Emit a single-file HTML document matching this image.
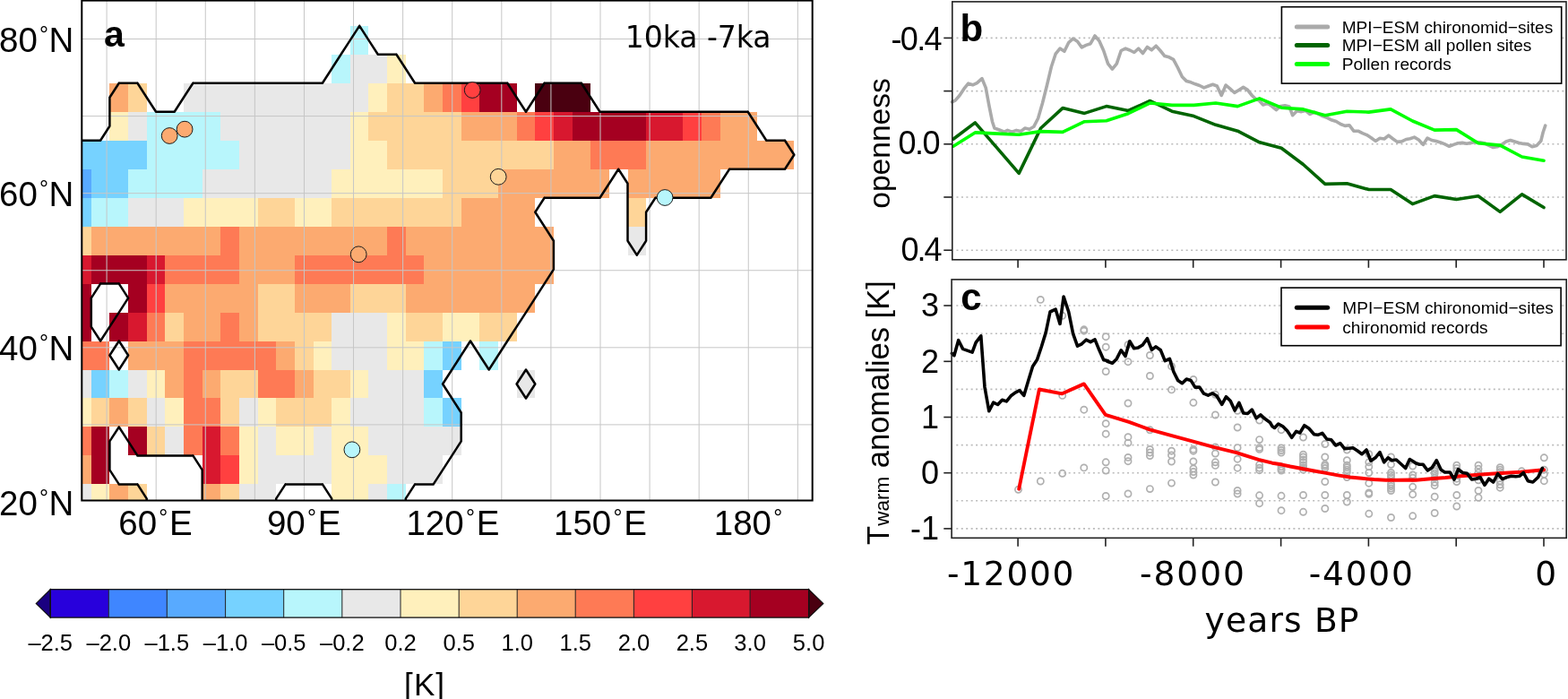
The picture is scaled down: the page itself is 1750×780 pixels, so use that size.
<!DOCTYPE html><html><head><meta charset="utf-8"><style>html,body{margin:0;padding:0;background:#fff;}svg{display:block}</style></head><body>
<svg width="1750" height="780" viewBox="0 0 1750 780">
<defs><clipPath id="mc"><rect x="91.3" y="0.6" width="815.4" height="557.9"/></clipPath></defs>
<rect width="1750" height="780" fill="#fff"/>
<g clip-path="url(#mc)" shape-rendering="crispEdges">
<rect x="390.83" y="28.88" width="20.65" height="31.97" fill="#b8f6fc"/>
<rect x="370.19" y="60.85" width="20.64" height="31.97" fill="#b8f6fc"/>
<rect x="390.83" y="60.85" width="41.29" height="31.97" fill="#e8e8e8"/>
<rect x="432.12" y="60.85" width="20.64" height="31.97" fill="#fff0bc"/>
<rect x="122.44" y="92.82" width="20.65" height="31.97" fill="#fcaa70"/>
<rect x="143.09" y="92.82" width="20.65" height="31.97" fill="#fed598"/>
<rect x="205.02" y="92.82" width="206.45" height="31.97" fill="#e8e8e8"/>
<rect x="411.48" y="92.82" width="20.64" height="31.97" fill="#fff0bc"/>
<rect x="432.12" y="92.82" width="41.29" height="31.97" fill="#fed598"/>
<rect x="473.41" y="92.82" width="20.64" height="31.97" fill="#fcaa70"/>
<rect x="494.06" y="92.82" width="20.64" height="31.97" fill="#fe7a55"/>
<rect x="514.70" y="92.82" width="20.65" height="31.97" fill="#ff4040"/>
<rect x="535.35" y="92.82" width="41.29" height="31.97" fill="#a50021"/>
<rect x="597.28" y="92.82" width="61.93" height="31.97" fill="#4a0010"/>
<rect x="122.44" y="124.79" width="20.65" height="31.97" fill="#fff0bc"/>
<rect x="143.09" y="124.79" width="20.65" height="31.97" fill="#e8e8e8"/>
<rect x="163.74" y="124.79" width="82.58" height="31.97" fill="#b8f6fc"/>
<rect x="246.31" y="124.79" width="144.51" height="31.97" fill="#e8e8e8"/>
<rect x="390.83" y="124.79" width="20.65" height="31.97" fill="#fff0bc"/>
<rect x="411.48" y="124.79" width="103.22" height="31.97" fill="#fed598"/>
<rect x="514.70" y="124.79" width="61.94" height="31.97" fill="#fcaa70"/>
<rect x="576.63" y="124.79" width="20.64" height="31.97" fill="#fe7a55"/>
<rect x="597.28" y="124.79" width="20.64" height="31.97" fill="#ff4040"/>
<rect x="617.92" y="124.79" width="20.64" height="31.97" fill="#d8182f"/>
<rect x="638.57" y="124.79" width="82.58" height="31.97" fill="#a50021"/>
<rect x="721.15" y="124.79" width="41.29" height="31.97" fill="#d8182f"/>
<rect x="762.44" y="124.79" width="20.64" height="31.97" fill="#ff4040"/>
<rect x="783.08" y="124.79" width="20.64" height="31.97" fill="#fe7a55"/>
<rect x="803.73" y="124.79" width="41.29" height="31.97" fill="#fcaa70"/>
<rect x="81.16" y="156.76" width="82.58" height="31.97" fill="#76d2ff"/>
<rect x="163.74" y="156.76" width="103.22" height="31.97" fill="#b8f6fc"/>
<rect x="266.96" y="156.76" width="123.87" height="31.97" fill="#e8e8e8"/>
<rect x="390.83" y="156.76" width="41.29" height="31.97" fill="#fff0bc"/>
<rect x="432.12" y="156.76" width="185.80" height="31.97" fill="#fed598"/>
<rect x="617.92" y="156.76" width="41.29" height="31.97" fill="#fcaa70"/>
<rect x="659.21" y="156.76" width="61.94" height="31.97" fill="#fe7a55"/>
<rect x="721.15" y="156.76" width="165.16" height="31.97" fill="#fcaa70"/>
<rect x="81.16" y="188.73" width="20.64" height="31.97" fill="#58aaff"/>
<rect x="101.80" y="188.73" width="41.29" height="31.97" fill="#76d2ff"/>
<rect x="143.09" y="188.73" width="82.58" height="31.97" fill="#b8f6fc"/>
<rect x="225.67" y="188.73" width="144.51" height="31.97" fill="#e8e8e8"/>
<rect x="370.19" y="188.73" width="123.87" height="31.97" fill="#fff0bc"/>
<rect x="494.06" y="188.73" width="61.94" height="31.97" fill="#fed598"/>
<rect x="555.99" y="188.73" width="123.87" height="31.97" fill="#fcaa70"/>
<rect x="700.50" y="188.73" width="103.22" height="31.97" fill="#fcaa70"/>
<rect x="81.16" y="220.70" width="20.64" height="31.97" fill="#76d2ff"/>
<rect x="101.80" y="220.70" width="41.29" height="31.97" fill="#b8f6fc"/>
<rect x="143.09" y="220.70" width="61.93" height="31.97" fill="#e8e8e8"/>
<rect x="205.02" y="220.70" width="82.58" height="31.97" fill="#fff0bc"/>
<rect x="287.61" y="220.70" width="41.29" height="31.97" fill="#fed598"/>
<rect x="328.89" y="220.70" width="41.29" height="31.97" fill="#fff0bc"/>
<rect x="370.19" y="220.70" width="144.51" height="31.97" fill="#fed598"/>
<rect x="514.70" y="220.70" width="82.58" height="31.97" fill="#fcaa70"/>
<rect x="700.50" y="220.70" width="20.64" height="31.97" fill="#fed598"/>
<rect x="81.16" y="252.67" width="20.64" height="31.97" fill="#fed598"/>
<rect x="101.80" y="252.67" width="144.51" height="31.97" fill="#fcaa70"/>
<rect x="246.31" y="252.67" width="20.64" height="31.97" fill="#fe7a55"/>
<rect x="266.96" y="252.67" width="165.16" height="31.97" fill="#fcaa70"/>
<rect x="432.12" y="252.67" width="20.64" height="31.97" fill="#fe7a55"/>
<rect x="452.76" y="252.67" width="165.16" height="31.97" fill="#fcaa70"/>
<rect x="700.50" y="252.67" width="20.64" height="31.97" fill="#e8e8e8"/>
<rect x="81.16" y="284.64" width="20.64" height="31.97" fill="#d8182f"/>
<rect x="101.80" y="284.64" width="61.94" height="31.97" fill="#a50021"/>
<rect x="163.74" y="284.64" width="20.64" height="31.97" fill="#d8182f"/>
<rect x="184.38" y="284.64" width="82.58" height="31.97" fill="#fe7a55"/>
<rect x="266.96" y="284.64" width="61.94" height="31.97" fill="#fcaa70"/>
<rect x="328.89" y="284.64" width="144.52" height="31.97" fill="#fe7a55"/>
<rect x="473.41" y="284.64" width="144.51" height="31.97" fill="#fcaa70"/>
<rect x="81.16" y="316.61" width="20.64" height="31.97" fill="#a50021"/>
<rect x="143.09" y="316.61" width="20.65" height="31.97" fill="#a50021"/>
<rect x="163.74" y="316.61" width="20.64" height="31.97" fill="#ff4040"/>
<rect x="184.38" y="316.61" width="103.23" height="31.97" fill="#fcaa70"/>
<rect x="287.61" y="316.61" width="41.29" height="31.97" fill="#fed598"/>
<rect x="328.89" y="316.61" width="61.94" height="31.97" fill="#fcaa70"/>
<rect x="390.83" y="316.61" width="61.94" height="31.97" fill="#fed598"/>
<rect x="452.76" y="316.61" width="144.51" height="31.97" fill="#fcaa70"/>
<rect x="81.16" y="348.58" width="20.64" height="31.97" fill="#a50021"/>
<rect x="122.44" y="348.58" width="20.65" height="31.97" fill="#a50021"/>
<rect x="143.09" y="348.58" width="20.65" height="31.97" fill="#d8182f"/>
<rect x="163.74" y="348.58" width="20.64" height="31.97" fill="#fe7a55"/>
<rect x="184.38" y="348.58" width="20.64" height="31.97" fill="#fed598"/>
<rect x="205.02" y="348.58" width="41.29" height="31.97" fill="#fcaa70"/>
<rect x="246.31" y="348.58" width="20.64" height="31.97" fill="#fe7a55"/>
<rect x="266.96" y="348.58" width="20.65" height="31.97" fill="#fcaa70"/>
<rect x="287.61" y="348.58" width="82.58" height="31.97" fill="#fed598"/>
<rect x="370.19" y="348.58" width="61.94" height="31.97" fill="#e8e8e8"/>
<rect x="432.12" y="348.58" width="20.64" height="31.97" fill="#fff0bc"/>
<rect x="452.76" y="348.58" width="41.29" height="31.97" fill="#fed598"/>
<rect x="494.06" y="348.58" width="41.29" height="31.97" fill="#fff0bc"/>
<rect x="535.35" y="348.58" width="41.29" height="31.97" fill="#fed598"/>
<rect x="81.16" y="380.55" width="41.29" height="31.97" fill="#fe7a55"/>
<rect x="143.09" y="380.55" width="61.93" height="31.97" fill="#fcaa70"/>
<rect x="205.02" y="380.55" width="103.23" height="31.97" fill="#fe7a55"/>
<rect x="308.25" y="380.55" width="20.64" height="31.97" fill="#fcaa70"/>
<rect x="328.89" y="380.55" width="20.65" height="31.97" fill="#fed598"/>
<rect x="349.54" y="380.55" width="20.64" height="31.97" fill="#fff0bc"/>
<rect x="370.19" y="380.55" width="61.94" height="31.97" fill="#e8e8e8"/>
<rect x="432.12" y="380.55" width="41.29" height="31.97" fill="#fff0bc"/>
<rect x="473.41" y="380.55" width="20.64" height="31.97" fill="#b8f6fc"/>
<rect x="494.06" y="380.55" width="20.64" height="31.97" fill="#76d2ff"/>
<rect x="535.35" y="380.55" width="20.64" height="31.97" fill="#b8f6fc"/>
<rect x="81.16" y="412.52" width="20.64" height="31.97" fill="#e8e8e8"/>
<rect x="101.80" y="412.52" width="20.64" height="31.97" fill="#76d2ff"/>
<rect x="122.44" y="412.52" width="20.65" height="31.97" fill="#b8f6fc"/>
<rect x="143.09" y="412.52" width="20.65" height="31.97" fill="#e8e8e8"/>
<rect x="163.74" y="412.52" width="20.64" height="31.97" fill="#fff0bc"/>
<rect x="184.38" y="412.52" width="20.64" height="31.97" fill="#fcaa70"/>
<rect x="205.02" y="412.52" width="20.65" height="31.97" fill="#fe7a55"/>
<rect x="225.67" y="412.52" width="20.64" height="31.97" fill="#fcaa70"/>
<rect x="246.31" y="412.52" width="41.29" height="31.97" fill="#fed598"/>
<rect x="287.61" y="412.52" width="41.29" height="31.97" fill="#fe7a55"/>
<rect x="328.89" y="412.52" width="20.65" height="31.97" fill="#fcaa70"/>
<rect x="349.54" y="412.52" width="41.29" height="31.97" fill="#fed598"/>
<rect x="390.83" y="412.52" width="20.65" height="31.97" fill="#fff0bc"/>
<rect x="411.48" y="412.52" width="61.94" height="31.97" fill="#e8e8e8"/>
<rect x="473.41" y="412.52" width="20.64" height="31.97" fill="#76d2ff"/>
<rect x="576.63" y="412.52" width="20.64" height="31.97" fill="#e8e8e8"/>
<rect x="81.16" y="444.49" width="20.64" height="31.97" fill="#fff0bc"/>
<rect x="101.80" y="444.49" width="20.64" height="31.97" fill="#fed598"/>
<rect x="122.44" y="444.49" width="20.65" height="31.97" fill="#fcaa70"/>
<rect x="143.09" y="444.49" width="20.65" height="31.97" fill="#fed598"/>
<rect x="163.74" y="444.49" width="20.64" height="31.97" fill="#e8e8e8"/>
<rect x="184.38" y="444.49" width="20.64" height="31.97" fill="#fff0bc"/>
<rect x="205.02" y="444.49" width="41.29" height="31.97" fill="#fe7a55"/>
<rect x="246.31" y="444.49" width="20.64" height="31.97" fill="#fed598"/>
<rect x="266.96" y="444.49" width="20.65" height="31.97" fill="#e8e8e8"/>
<rect x="287.61" y="444.49" width="20.64" height="31.97" fill="#fff0bc"/>
<rect x="308.25" y="444.49" width="61.94" height="31.97" fill="#fed598"/>
<rect x="370.19" y="444.49" width="20.64" height="31.97" fill="#fff0bc"/>
<rect x="390.83" y="444.49" width="82.58" height="31.97" fill="#e8e8e8"/>
<rect x="473.41" y="444.49" width="20.64" height="31.97" fill="#b8f6fc"/>
<rect x="494.06" y="444.49" width="20.64" height="31.97" fill="#76d2ff"/>
<rect x="81.16" y="476.46" width="20.64" height="31.97" fill="#fe7a55"/>
<rect x="101.80" y="476.46" width="20.64" height="31.97" fill="#a50021"/>
<rect x="143.09" y="476.46" width="20.65" height="31.97" fill="#a50021"/>
<rect x="163.74" y="476.46" width="20.64" height="31.97" fill="#fed598"/>
<rect x="184.38" y="476.46" width="20.64" height="31.97" fill="#e8e8e8"/>
<rect x="205.02" y="476.46" width="20.65" height="31.97" fill="#fe7a55"/>
<rect x="225.67" y="476.46" width="20.64" height="31.97" fill="#d8182f"/>
<rect x="246.31" y="476.46" width="20.64" height="31.97" fill="#fe7a55"/>
<rect x="266.96" y="476.46" width="20.65" height="31.97" fill="#fff0bc"/>
<rect x="287.61" y="476.46" width="20.64" height="31.97" fill="#e8e8e8"/>
<rect x="308.25" y="476.46" width="41.29" height="31.97" fill="#fff0bc"/>
<rect x="349.54" y="476.46" width="20.64" height="31.97" fill="#e8e8e8"/>
<rect x="370.19" y="476.46" width="41.29" height="31.97" fill="#fff0bc"/>
<rect x="411.48" y="476.46" width="103.22" height="31.97" fill="#e8e8e8"/>
<rect x="81.16" y="508.43" width="20.64" height="31.97" fill="#fcaa70"/>
<rect x="101.80" y="508.43" width="20.64" height="31.97" fill="#a50021"/>
<rect x="225.67" y="508.43" width="20.64" height="31.97" fill="#d8182f"/>
<rect x="246.31" y="508.43" width="20.64" height="31.97" fill="#ff4040"/>
<rect x="266.96" y="508.43" width="20.65" height="31.97" fill="#fff0bc"/>
<rect x="287.61" y="508.43" width="82.58" height="31.97" fill="#e8e8e8"/>
<rect x="370.19" y="508.43" width="61.94" height="31.97" fill="#fff0bc"/>
<rect x="432.12" y="508.43" width="61.94" height="31.97" fill="#e8e8e8"/>
<rect x="81.16" y="540.40" width="20.64" height="31.97" fill="#e8e8e8"/>
<rect x="101.80" y="540.40" width="20.64" height="31.97" fill="#fff0bc"/>
<rect x="122.44" y="540.40" width="20.65" height="31.97" fill="#fcaa70"/>
<rect x="143.09" y="540.40" width="20.65" height="31.97" fill="#fed598"/>
<rect x="225.67" y="540.40" width="20.64" height="31.97" fill="#fcaa70"/>
<rect x="246.31" y="540.40" width="20.64" height="31.97" fill="#fed598"/>
<rect x="266.96" y="540.40" width="41.29" height="31.97" fill="#e8e8e8"/>
<rect x="370.19" y="540.40" width="41.29" height="31.97" fill="#fff0bc"/>
<rect x="411.48" y="540.40" width="20.64" height="31.97" fill="#e8e8e8"/>
<rect x="432.12" y="540.40" width="20.64" height="31.97" fill="#b8f6fc"/>
</g>
<g stroke="#c6c6c6" stroke-width="1" clip-path="url(#mc)">
<line x1="119.10" y1="0" x2="119.10" y2="560"/>
<line x1="174.19" y1="0" x2="174.19" y2="560"/>
<line x1="229.28" y1="0" x2="229.28" y2="560"/>
<line x1="284.37" y1="0" x2="284.37" y2="560"/>
<line x1="339.46" y1="0" x2="339.46" y2="560"/>
<line x1="394.55" y1="0" x2="394.55" y2="560"/>
<line x1="449.64" y1="0" x2="449.64" y2="560"/>
<line x1="504.73" y1="0" x2="504.73" y2="560"/>
<line x1="559.82" y1="0" x2="559.82" y2="560"/>
<line x1="614.91" y1="0" x2="614.91" y2="560"/>
<line x1="670.00" y1="0" x2="670.00" y2="560"/>
<line x1="725.09" y1="0" x2="725.09" y2="560"/>
<line x1="780.18" y1="0" x2="780.18" y2="560"/>
<line x1="835.27" y1="0" x2="835.27" y2="560"/>
<line x1="890.36" y1="0" x2="890.36" y2="560"/>
<line x1="90" y1="559.98" x2="910" y2="559.98"/>
<line x1="90" y1="473.90" x2="910" y2="473.90"/>
<line x1="90" y1="387.82" x2="910" y2="387.82"/>
<line x1="90" y1="301.74" x2="910" y2="301.74"/>
<line x1="90" y1="215.66" x2="910" y2="215.66"/>
<line x1="90" y1="129.58" x2="910" y2="129.58"/>
<line x1="90" y1="43.50" x2="910" y2="43.50"/>
</g>
<g clip-path="url(#mc)" stroke="#000" stroke-width="2.5" stroke-linecap="round" fill="none">
<path d="M390.8 44.9L401.2 28.9M401.2 28.9L411.5 44.9M370.2 76.8L380.5 60.8M390.8 44.9L380.5 60.8M411.5 44.9L421.8 60.8M421.8 60.8L442.4 60.8M442.4 60.8L452.8 76.8M122.4 108.8L132.8 92.8M132.8 92.8L153.4 92.8M153.4 92.8L163.7 108.8M205.0 108.8L215.4 92.8M215.4 92.8L236.0 92.8M236.0 92.8L256.6 92.8M256.6 92.8L277.3 92.8M277.3 92.8L297.9 92.8M297.9 92.8L318.6 92.8M318.6 92.8L339.2 92.8M339.2 92.8L359.9 92.8M370.2 76.8L359.9 92.8M452.8 76.8L463.1 92.8M463.1 92.8L483.7 92.8M483.7 92.8L504.4 92.8M504.4 92.8L525.0 92.8M525.0 92.8L545.7 92.8M545.7 92.8L566.3 92.8M566.3 92.8L576.6 108.8M597.3 108.8L607.6 92.8M607.6 92.8L628.2 92.8M628.2 92.8L648.9 92.8M648.9 92.8L659.2 108.8M122.4 108.8L122.4 140.8M163.7 108.8L174.1 124.8M174.1 124.8L194.7 124.8M205.0 108.8L194.7 124.8M576.6 108.8L587.0 124.8M597.3 108.8L587.0 124.8M659.2 108.8L669.5 124.8M669.5 124.8L690.2 124.8M690.2 124.8L710.8 124.8M710.8 124.8L731.5 124.8M731.5 124.8L752.1 124.8M752.1 124.8L772.8 124.8M772.8 124.8L793.4 124.8M793.4 124.8L814.1 124.8M814.1 124.8L834.7 124.8M834.7 124.8L845.0 140.8M70.8 156.8L91.5 156.8M91.5 156.8L112.1 156.8M122.4 140.8L112.1 156.8M845.0 140.8L855.3 156.8M855.3 156.8L876.0 156.8M876.0 156.8L886.3 172.8M690.2 188.7L679.9 204.7M690.2 188.7L700.5 204.7M814.1 188.7L803.7 204.7M814.1 188.7L834.7 188.7M834.7 188.7L855.3 188.7M855.3 188.7L876.0 188.7M886.3 172.8L876.0 188.7M607.6 220.7L597.3 236.7M607.6 220.7L628.2 220.7M628.2 220.7L648.9 220.7M648.9 220.7L669.5 220.7M679.9 204.7L669.5 220.7M700.5 204.7L700.5 236.7M731.5 220.7L721.1 236.7M731.5 220.7L752.1 220.7M752.1 220.7L772.8 220.7M772.8 220.7L793.4 220.7M803.7 204.7L793.4 220.7M597.3 236.7L607.6 252.7M607.6 252.7L617.9 268.7M700.5 236.7L700.5 268.7M721.1 236.7L721.1 268.7M617.9 268.7L617.9 300.6M700.5 268.7L710.8 284.6M721.1 268.7L710.8 284.6M112.1 316.6L101.8 332.6M112.1 316.6L132.8 316.6M132.8 316.6L143.1 332.6M607.6 316.6L597.3 332.6M617.9 300.6L607.6 316.6M101.8 332.6L101.8 364.6M122.4 364.6L132.8 348.6M143.1 332.6L132.8 348.6M587.0 348.6L576.6 364.6M597.3 332.6L587.0 348.6M101.8 364.6L112.1 380.5M122.4 364.6L112.1 380.5M122.4 396.5L132.8 380.5M132.8 380.5L143.1 396.5M525.0 380.5L514.7 396.5M525.0 380.5L535.3 396.5M566.3 380.5L556.0 396.5M576.6 364.6L566.3 380.5M122.4 396.5L132.8 412.5M143.1 396.5L132.8 412.5M504.4 412.5L494.1 428.5M514.7 396.5L504.4 412.5M535.3 396.5L545.7 412.5M556.0 396.5L545.7 412.5M576.6 428.5L587.0 412.5M587.0 412.5L597.3 428.5M494.1 428.5L504.4 444.5M504.4 444.5L514.7 460.5M576.6 428.5L587.0 444.5M597.3 428.5L587.0 444.5M132.8 476.5L122.4 492.4M132.8 476.5L143.1 492.4M514.7 460.5L514.7 492.4M122.4 492.4L122.4 524.4M143.1 492.4L153.4 508.4M153.4 508.4L174.1 508.4M174.1 508.4L194.7 508.4M194.7 508.4L215.4 508.4M215.4 508.4L225.7 524.4M504.4 508.4L494.1 524.4M514.7 492.4L504.4 508.4M122.4 524.4L132.8 540.4M132.8 540.4L153.4 540.4M153.4 540.4L163.7 556.4M225.7 524.4L225.7 556.4M318.6 540.4L308.2 556.4M318.6 540.4L339.2 540.4M339.2 540.4L359.9 540.4M359.9 540.4L370.2 556.4M463.1 540.4L452.8 556.4M463.1 540.4L483.7 540.4M494.1 524.4L483.7 540.4M163.7 556.4L163.7 588.4M225.7 556.4L225.7 588.4M308.2 556.4L308.2 588.4M370.2 556.4L370.2 588.4M452.8 556.4L452.8 588.4"/>
</g>
<circle cx="189.2" cy="151.5" r="8.9" fill="#fcaa70" stroke="#1a1a1a" stroke-width="1"/>
<circle cx="206.1" cy="144.2" r="8.9" fill="#fcaa70" stroke="#1a1a1a" stroke-width="1"/>
<circle cx="527.2" cy="100.5" r="8.9" fill="#ff4040" stroke="#1a1a1a" stroke-width="1"/>
<circle cx="556.2" cy="197.3" r="8.9" fill="#fed598" stroke="#1a1a1a" stroke-width="1"/>
<circle cx="400.2" cy="283.8" r="8.9" fill="#fcaa70" stroke="#1a1a1a" stroke-width="1"/>
<circle cx="742.1" cy="220.5" r="8.9" fill="#b8f6fc" stroke="#1a1a1a" stroke-width="1"/>
<circle cx="392.9" cy="501.8" r="8.9" fill="#b8f6fc" stroke="#1a1a1a" stroke-width="1"/>
<rect x="91.3" y="0.6" width="815.4" height="557.9" fill="none" stroke="#000" stroke-width="2"/>
<text x="82.3" y="58.1" font-family="Liberation Sans, Arial, sans-serif" font-size="38.5" text-anchor="end">80<tspan dx="2.2" dy="-11" font-size="25">°</tspan><tspan dx="0.4" dy="11">N</tspan></text>
<text x="82.3" y="229.9" font-family="Liberation Sans, Arial, sans-serif" font-size="38.5" text-anchor="end">60<tspan dx="2.2" dy="-11" font-size="25">°</tspan><tspan dx="0.4" dy="11">N</tspan></text>
<text x="82.3" y="402.3" font-family="Liberation Sans, Arial, sans-serif" font-size="38.5" text-anchor="end">40<tspan dx="2.2" dy="-11" font-size="25">°</tspan><tspan dx="0.4" dy="11">N</tspan></text>
<text x="82.3" y="574.6" font-family="Liberation Sans, Arial, sans-serif" font-size="38.5" text-anchor="end">20<tspan dx="2.2" dy="-11" font-size="25">°</tspan><tspan dx="0.4" dy="11">N</tspan></text>
<text x="173.5" y="597" font-family="Liberation Sans, Arial, sans-serif" font-size="38.5" text-anchor="middle">60<tspan dx="2.2" dy="-11" font-size="25">°</tspan><tspan dx="1.8" dy="11">E</tspan></text>
<text x="339.2" y="597" font-family="Liberation Sans, Arial, sans-serif" font-size="38.5" text-anchor="middle">90<tspan dx="2.2" dy="-11" font-size="25">°</tspan><tspan dx="1.8" dy="11">E</tspan></text>
<text x="505.4" y="597" font-family="Liberation Sans, Arial, sans-serif" font-size="38.5" text-anchor="middle">120<tspan dx="2.2" dy="-11" font-size="25">°</tspan><tspan dx="1.8" dy="11">E</tspan></text>
<text x="670.0" y="597" font-family="Liberation Sans, Arial, sans-serif" font-size="38.5" text-anchor="middle">150<tspan dx="2.2" dy="-11" font-size="25">°</tspan><tspan dx="1.8" dy="11">E</tspan></text>
<text x="835.0" y="597" font-family="Liberation Sans, Arial, sans-serif" font-size="38.5" text-anchor="middle">180<tspan dx="2.2" dy="-11" font-size="25">°</tspan></text>
<text x="116" y="51.5" font-family="Liberation Sans, Arial, sans-serif" font-size="41" font-weight="bold">a</text>
<text x="697.7" y="52.6" font-family="DejaVu Sans, sans-serif" font-size="33">10ka -7ka</text>
<g shape-rendering="crispEdges">
<rect x="56.2" y="657.7" width="65.1" height="31.4" fill="#2800dc"/>
<rect x="121.3" y="657.7" width="65.0" height="31.4" fill="#3f86ff"/>
<rect x="186.3" y="657.7" width="65.3" height="31.4" fill="#58aaff"/>
<rect x="251.6" y="657.7" width="65.1" height="31.4" fill="#76d2ff"/>
<rect x="316.7" y="657.7" width="65.1" height="31.4" fill="#b8f6fc"/>
<rect x="381.8" y="657.7" width="65.2" height="31.4" fill="#e8e8e8"/>
<rect x="447.0" y="657.7" width="65.2" height="31.4" fill="#fff0bc"/>
<rect x="512.2" y="657.7" width="65.0" height="31.4" fill="#fed598"/>
<rect x="577.2" y="657.7" width="65.0" height="31.4" fill="#fcaa70"/>
<rect x="642.2" y="657.7" width="65.2" height="31.4" fill="#fe7a55"/>
<rect x="707.4" y="657.7" width="65.0" height="31.4" fill="#ff4040"/>
<rect x="772.4" y="657.7" width="64.7" height="31.4" fill="#d8182f"/>
<rect x="837.1" y="657.7" width="65.5" height="31.4" fill="#a50021"/>
</g>
<polygon points="56.2,657.7 40.3,673.4 56.2,689.1" fill="#1a0080" stroke="#111" stroke-width="1.2"/>
<polygon points="902.6,657.7 918.8,673.4 902.6,689.1" fill="#4a0010" stroke="#111" stroke-width="1.2"/>
<line x1="121.3" y1="657.7" x2="121.3" y2="689.1" stroke="#222" stroke-width="1"/>
<line x1="186.3" y1="657.7" x2="186.3" y2="689.1" stroke="#222" stroke-width="1"/>
<line x1="251.6" y1="657.7" x2="251.6" y2="689.1" stroke="#222" stroke-width="1"/>
<line x1="316.7" y1="657.7" x2="316.7" y2="689.1" stroke="#222" stroke-width="1"/>
<line x1="381.8" y1="657.7" x2="381.8" y2="689.1" stroke="#222" stroke-width="1"/>
<line x1="447.0" y1="657.7" x2="447.0" y2="689.1" stroke="#222" stroke-width="1"/>
<line x1="512.2" y1="657.7" x2="512.2" y2="689.1" stroke="#222" stroke-width="1"/>
<line x1="577.2" y1="657.7" x2="577.2" y2="689.1" stroke="#222" stroke-width="1"/>
<line x1="642.2" y1="657.7" x2="642.2" y2="689.1" stroke="#222" stroke-width="1"/>
<line x1="707.4" y1="657.7" x2="707.4" y2="689.1" stroke="#222" stroke-width="1"/>
<line x1="772.4" y1="657.7" x2="772.4" y2="689.1" stroke="#222" stroke-width="1"/>
<line x1="837.1" y1="657.7" x2="837.1" y2="689.1" stroke="#222" stroke-width="1"/>
<rect x="56.2" y="657.7" width="846.4" height="31.4" fill="none" stroke="#111" stroke-width="1.3"/>
<text x="56.2" y="725.5" font-family="Liberation Sans, Arial, sans-serif" font-size="25.5" text-anchor="middle">–2.5</text>
<text x="121.3" y="725.5" font-family="Liberation Sans, Arial, sans-serif" font-size="25.5" text-anchor="middle">–2.0</text>
<text x="186.3" y="725.5" font-family="Liberation Sans, Arial, sans-serif" font-size="25.5" text-anchor="middle">–1.5</text>
<text x="251.6" y="725.5" font-family="Liberation Sans, Arial, sans-serif" font-size="25.5" text-anchor="middle">–1.0</text>
<text x="316.7" y="725.5" font-family="Liberation Sans, Arial, sans-serif" font-size="25.5" text-anchor="middle">–0.5</text>
<text x="381.8" y="725.5" font-family="Liberation Sans, Arial, sans-serif" font-size="25.5" text-anchor="middle">–0.2</text>
<text x="447.0" y="725.5" font-family="Liberation Sans, Arial, sans-serif" font-size="25.5" text-anchor="middle">0.2</text>
<text x="512.2" y="725.5" font-family="Liberation Sans, Arial, sans-serif" font-size="25.5" text-anchor="middle">0.5</text>
<text x="577.2" y="725.5" font-family="Liberation Sans, Arial, sans-serif" font-size="25.5" text-anchor="middle">1.0</text>
<text x="642.2" y="725.5" font-family="Liberation Sans, Arial, sans-serif" font-size="25.5" text-anchor="middle">1.5</text>
<text x="707.4" y="725.5" font-family="Liberation Sans, Arial, sans-serif" font-size="25.5" text-anchor="middle">2.0</text>
<text x="772.4" y="725.5" font-family="Liberation Sans, Arial, sans-serif" font-size="25.5" text-anchor="middle">2.5</text>
<text x="837.1" y="725.5" font-family="Liberation Sans, Arial, sans-serif" font-size="25.5" text-anchor="middle">3.0</text>
<text x="902.6" y="725.5" font-family="Liberation Sans, Arial, sans-serif" font-size="25.5" text-anchor="middle">5.0</text>
<text x="473.6" y="776.2" font-family="Liberation Sans, Arial, sans-serif" font-size="35" text-anchor="middle" textLength="45" lengthAdjust="spacing">[K]</text>
<g stroke="#bbb" stroke-width="1.6" stroke-dasharray="2 3.45">
<line x1="1067.5" y1="42.4" x2="1746.0" y2="42.4"/>
<line x1="1067.5" y1="101.6" x2="1746.0" y2="101.6"/>
<line x1="1067.5" y1="160.8" x2="1746.0" y2="160.8"/>
<line x1="1067.5" y1="220.0" x2="1746.0" y2="220.0"/>
<line x1="1067.5" y1="279.2" x2="1746.0" y2="279.2"/>
</g>
<polyline points="1062.4,113.8 1066.1,112.1 1071.0,106.5 1075.8,99.2 1080.7,93.1 1085.6,94.8 1090.4,92.6 1096.0,87.7 1100.2,97.9 1103.8,117.4 1107.5,135.7 1109.9,143.0 1114.8,144.7 1120.9,147.1 1124.5,145.4 1129.4,147.1 1134.3,145.4 1139.2,146.6 1144.0,143.0 1148.9,144.2 1153.8,141.3 1158.6,132.0 1163.5,115.0 1168.4,95.5 1173.3,74.8 1178.1,60.2 1183.0,54.1 1187.9,57.3 1192.7,47.5 1197.6,43.1 1202.5,46.3 1207.3,52.9 1212.2,50.4 1217.1,48.7 1222.0,40.0 1226.8,45.6 1231.7,56.5 1236.6,71.1 1241.4,77.2 1246.3,71.1 1251.2,56.5 1256.1,54.1 1260.9,56.0 1265.8,58.5 1270.7,54.1 1275.5,59.5 1280.4,52.4 1285.3,55.8 1290.2,51.2 1295.0,56.5 1299.9,62.6 1304.8,63.8 1309.6,66.3 1314.5,75.5 1319.4,85.8 1324.3,90.6 1329.1,91.8 1334.0,93.8 1338.9,95.5 1343.7,97.9 1348.6,96.0 1353.5,94.3 1358.3,96.0 1363.2,106.5 1368.1,95.0 1373.0,99.2 1377.8,103.5 1382.7,100.4 1387.6,97.4 1392.4,100.4 1397.3,106.5 1402.2,111.3 1404.9,111.7 1409.7,117.0 1414.6,115.3 1419.5,118.5 1424.4,122.6 1429.2,118.5 1434.1,117.7 1439.0,119.0 1442.6,128.7 1447.5,123.8 1452.4,124.6 1457.2,123.4 1462.1,127.5 1467.0,125.1 1471.8,127.5 1476.7,129.9 1481.6,131.6 1486.5,134.1 1491.3,135.5 1496.2,138.5 1501.1,140.4 1505.9,139.7 1510.8,146.2 1515.7,146.2 1520.6,148.7 1525.4,150.6 1530.3,153.8 1535.2,157.4 1540.0,154.3 1544.9,155.0 1549.8,151.1 1554.7,155.0 1559.5,158.4 1564.4,157.9 1569.3,155.5 1573.7,154.8 1578.5,153.1 1583.4,156.0 1588.3,161.4 1593.1,154.1 1598.0,156.5 1602.9,157.5 1607.7,158.9 1612.6,160.9 1617.5,163.3 1622.4,161.4 1627.2,159.7 1632.1,159.4 1637.0,160.2 1641.8,159.4 1646.7,158.5 1651.6,158.9 1656.5,159.7 1661.3,162.1 1666.2,164.5 1671.1,163.8 1675.9,161.4 1680.8,158.0 1685.7,156.5 1690.6,158.0 1695.4,159.4 1700.3,160.4 1705.2,160.9 1710.0,163.8 1714.9,162.6 1719.8,157.2 1722.2,147.5 1724.7,140.2" fill="none" stroke="#aaaaaa" stroke-width="3.6" stroke-linejoin="round" stroke-linecap="round"/>
<polyline points="1063.9,155.2 1088.3,136.9 1112.8,165.1 1137.2,193.4 1161.6,143.0 1186.0,120.6 1210.4,126.4 1234.8,118.6 1259.2,123.5 1283.6,112.5 1308.0,124.2 1332.4,129.6 1356.8,139.3 1381.3,146.2 1405.7,158.8 1430.1,165.2 1454.5,183.5 1478.9,205.4 1503.3,204.7 1527.7,211.5 1552.1,211.5 1576.5,227.6 1601.0,218.6 1625.4,222.5 1649.8,218.8 1674.2,236.4 1698.6,216.9 1723.0,231.5" fill="none" stroke="#006400" stroke-width="3.6" stroke-linejoin="round" stroke-linecap="round"/>
<polyline points="1063.9,163.2 1088.3,147.9 1112.8,149.1 1137.2,150.3 1161.6,146.6 1186.0,147.4 1210.4,135.7 1234.8,134.8 1259.2,126.7 1283.6,115.0 1308.0,117.4 1332.4,117.4 1356.8,115.0 1381.3,118.6 1405.7,109.9 1430.1,120.2 1454.5,121.9 1478.9,128.7 1503.3,124.3 1527.7,125.1 1552.1,121.9 1576.5,135.0 1601.0,145.1 1625.4,144.6 1649.8,159.7 1674.2,162.1 1698.6,175.0 1723.0,179.2" fill="none" stroke="#00ff00" stroke-width="3.6" stroke-linejoin="round" stroke-linecap="round"/>
<rect x="1062.8" y="1.9" width="685.2" height="287.9" fill="none" stroke="#222" stroke-width="1.6"/>
<line x1="1053.3" y1="42.4" x2="1062.8" y2="42.4" stroke="#222" stroke-width="1.6"/>
<line x1="1053.3" y1="101.6" x2="1062.8" y2="101.6" stroke="#222" stroke-width="1.6"/>
<line x1="1053.3" y1="160.8" x2="1062.8" y2="160.8" stroke="#222" stroke-width="1.6"/>
<line x1="1053.3" y1="220.0" x2="1062.8" y2="220.0" stroke="#222" stroke-width="1.6"/>
<line x1="1053.3" y1="279.2" x2="1062.8" y2="279.2" stroke="#222" stroke-width="1.6"/>
<line x1="1136.1" y1="289.8" x2="1136.1" y2="298.8" stroke="#222" stroke-width="1.6"/>
<line x1="1233.9" y1="289.8" x2="1233.9" y2="298.8" stroke="#222" stroke-width="1.6"/>
<line x1="1331.7" y1="289.8" x2="1331.7" y2="298.8" stroke="#222" stroke-width="1.6"/>
<line x1="1429.6" y1="289.8" x2="1429.6" y2="298.8" stroke="#222" stroke-width="1.6"/>
<line x1="1527.4" y1="289.8" x2="1527.4" y2="298.8" stroke="#222" stroke-width="1.6"/>
<line x1="1625.2" y1="289.8" x2="1625.2" y2="298.8" stroke="#222" stroke-width="1.6"/>
<line x1="1723.0" y1="289.8" x2="1723.0" y2="298.8" stroke="#222" stroke-width="1.6"/>
<text x="1051.5" y="56.0" font-family="Liberation Sans, Arial, sans-serif" font-size="36" text-anchor="end" textLength="57" lengthAdjust="spacing">-0.4</text>
<text x="1049.5" y="172.1" font-family="Liberation Sans, Arial, sans-serif" font-size="36" text-anchor="end" textLength="47" lengthAdjust="spacing">0.0</text>
<text x="1051.5" y="290.6" font-family="Liberation Sans, Arial, sans-serif" font-size="36" text-anchor="end" textLength="46" lengthAdjust="spacing">0.4</text>
<text x="1071.5" y="46.2" font-family="Liberation Sans, Arial, sans-serif" font-size="42" font-weight="bold">b</text>
<text transform="translate(993,160) rotate(-90)" font-family="Liberation Sans, Arial, sans-serif" font-size="33.5" text-anchor="middle">openness</text>
<rect x="1430.4" y="7.7" width="312.3" height="85.4" fill="#fff" stroke="#000" stroke-width="1.6"/>
<line x1="1447.3" y1="30.0" x2="1481.7" y2="30.0" stroke="#aaaaaa" stroke-width="5" stroke-linecap="round"/>
<text x="1497.7" y="36.7" font-family="Liberation Sans, Arial, sans-serif" font-size="19.1">MPI−ESM chironomid−sites</text>
<line x1="1447.3" y1="50.6" x2="1481.7" y2="50.6" stroke="#006400" stroke-width="5" stroke-linecap="round"/>
<text x="1497.7" y="57.3" font-family="Liberation Sans, Arial, sans-serif" font-size="19.1">MPI−ESM all pollen sites</text>
<line x1="1447.3" y1="71.5" x2="1481.7" y2="71.5" stroke="#00ff00" stroke-width="5" stroke-linecap="round"/>
<text x="1497.7" y="78.2" font-family="Liberation Sans, Arial, sans-serif" font-size="19.1">Pollen records</text>
<g stroke="#bbb" stroke-width="1.6" stroke-dasharray="2 3.45">
<line x1="1067.3" y1="341.0" x2="1746.2" y2="341.0"/>
<line x1="1067.3" y1="372.2" x2="1746.2" y2="372.2"/>
<line x1="1067.3" y1="403.3" x2="1746.2" y2="403.3"/>
<line x1="1067.3" y1="434.4" x2="1746.2" y2="434.4"/>
<line x1="1067.3" y1="465.5" x2="1746.2" y2="465.5"/>
<line x1="1067.3" y1="496.6" x2="1746.2" y2="496.6"/>
<line x1="1067.3" y1="527.7" x2="1746.2" y2="527.7"/>
<line x1="1067.3" y1="558.8" x2="1746.2" y2="558.8"/>
<line x1="1067.3" y1="589.9" x2="1746.2" y2="589.9"/>
</g>
<g fill="none" stroke="#b0b0b0" stroke-width="1.7">
<circle cx="1136.5" cy="546.3" r="3.6"/>
<circle cx="1161.3" cy="334.4" r="3.6"/>
<circle cx="1161.3" cy="537.0" r="3.6"/>
<circle cx="1185.7" cy="352.3" r="3.6"/>
<circle cx="1185.7" cy="441.4" r="3.6"/>
<circle cx="1185.7" cy="528.3" r="3.6"/>
<circle cx="1209.8" cy="367.8" r="3.6"/>
<circle cx="1209.8" cy="369.2" r="3.6"/>
<circle cx="1209.8" cy="457.2" r="3.6"/>
<circle cx="1209.8" cy="521.9" r="3.6"/>
<circle cx="1234.2" cy="375.7" r="3.6"/>
<circle cx="1234.2" cy="387.2" r="3.6"/>
<circle cx="1234.2" cy="414.5" r="3.6"/>
<circle cx="1234.2" cy="472.7" r="3.6"/>
<circle cx="1234.2" cy="484.2" r="3.6"/>
<circle cx="1234.2" cy="515.8" r="3.6"/>
<circle cx="1234.2" cy="525.1" r="3.6"/>
<circle cx="1234.2" cy="553.5" r="3.6"/>
<circle cx="1259.0" cy="384.7" r="3.6"/>
<circle cx="1259.0" cy="403.7" r="3.6"/>
<circle cx="1259.0" cy="450.0" r="3.6"/>
<circle cx="1259.0" cy="487.7" r="3.6"/>
<circle cx="1259.0" cy="494.2" r="3.6"/>
<circle cx="1259.0" cy="510.4" r="3.6"/>
<circle cx="1259.0" cy="514.7" r="3.6"/>
<circle cx="1259.0" cy="551.0" r="3.6"/>
<circle cx="1283.4" cy="396.5" r="3.6"/>
<circle cx="1283.4" cy="419.5" r="3.6"/>
<circle cx="1283.4" cy="479.8" r="3.6"/>
<circle cx="1283.4" cy="501.4" r="3.6"/>
<circle cx="1283.4" cy="505.0" r="3.6"/>
<circle cx="1283.4" cy="508.6" r="3.6"/>
<circle cx="1283.4" cy="545.6" r="3.6"/>
<circle cx="1307.5" cy="408.7" r="3.6"/>
<circle cx="1307.5" cy="434.9" r="3.6"/>
<circle cx="1307.5" cy="503.2" r="3.6"/>
<circle cx="1307.5" cy="507.9" r="3.6"/>
<circle cx="1307.5" cy="515.0" r="3.6"/>
<circle cx="1307.5" cy="539.1" r="3.6"/>
<circle cx="1331.9" cy="423.4" r="3.6"/>
<circle cx="1331.9" cy="449.3" r="3.6"/>
<circle cx="1331.9" cy="501.4" r="3.6"/>
<circle cx="1331.9" cy="503.2" r="3.6"/>
<circle cx="1331.9" cy="515.0" r="3.6"/>
<circle cx="1331.9" cy="522.9" r="3.6"/>
<circle cx="1331.9" cy="526.5" r="3.6"/>
<circle cx="1331.9" cy="530.1" r="3.6"/>
<circle cx="1356.4" cy="440.3" r="3.6"/>
<circle cx="1356.4" cy="463.0" r="3.6"/>
<circle cx="1356.4" cy="498.9" r="3.6"/>
<circle cx="1356.4" cy="506.1" r="3.6"/>
<circle cx="1356.4" cy="515.8" r="3.6"/>
<circle cx="1356.4" cy="519.4" r="3.6"/>
<circle cx="1356.4" cy="538.0" r="3.6"/>
<circle cx="1381.1" cy="458.3" r="3.6"/>
<circle cx="1381.1" cy="477.0" r="3.6"/>
<circle cx="1381.1" cy="499.6" r="3.6"/>
<circle cx="1381.1" cy="512.2" r="3.6"/>
<circle cx="1381.1" cy="522.2" r="3.6"/>
<circle cx="1381.1" cy="547.4" r="3.6"/>
<circle cx="1381.1" cy="551.0" r="3.6"/>
<circle cx="1405.6" cy="469.1" r="3.6"/>
<circle cx="1405.6" cy="490.6" r="3.6"/>
<circle cx="1405.6" cy="499.6" r="3.6"/>
<circle cx="1405.6" cy="501.4" r="3.6"/>
<circle cx="1405.6" cy="518.6" r="3.6"/>
<circle cx="1405.6" cy="522.2" r="3.6"/>
<circle cx="1405.6" cy="524.7" r="3.6"/>
<circle cx="1405.6" cy="552.8" r="3.6"/>
<circle cx="1405.6" cy="561.7" r="3.6"/>
<circle cx="1430.0" cy="479.7" r="3.6"/>
<circle cx="1430.0" cy="500.0" r="3.6"/>
<circle cx="1430.0" cy="502.5" r="3.6"/>
<circle cx="1430.0" cy="505.0" r="3.6"/>
<circle cx="1430.0" cy="520.8" r="3.6"/>
<circle cx="1430.0" cy="523.3" r="3.6"/>
<circle cx="1430.0" cy="525.0" r="3.6"/>
<circle cx="1430.0" cy="553.3" r="3.6"/>
<circle cx="1430.0" cy="569.7" r="3.6"/>
<circle cx="1454.5" cy="488.0" r="3.6"/>
<circle cx="1454.5" cy="507.2" r="3.6"/>
<circle cx="1454.5" cy="510.0" r="3.6"/>
<circle cx="1454.5" cy="513.0" r="3.6"/>
<circle cx="1454.5" cy="515.8" r="3.6"/>
<circle cx="1454.5" cy="519.2" r="3.6"/>
<circle cx="1454.5" cy="521.7" r="3.6"/>
<circle cx="1454.5" cy="524.2" r="3.6"/>
<circle cx="1454.5" cy="552.5" r="3.6"/>
<circle cx="1454.5" cy="571.3" r="3.6"/>
<circle cx="1478.8" cy="495.5" r="3.6"/>
<circle cx="1478.8" cy="510.0" r="3.6"/>
<circle cx="1478.8" cy="518.3" r="3.6"/>
<circle cx="1478.8" cy="520.0" r="3.6"/>
<circle cx="1478.8" cy="522.5" r="3.6"/>
<circle cx="1478.8" cy="537.5" r="3.6"/>
<circle cx="1478.8" cy="552.5" r="3.6"/>
<circle cx="1478.8" cy="567.5" r="3.6"/>
<circle cx="1503.3" cy="502.0" r="3.6"/>
<circle cx="1503.3" cy="513.7" r="3.6"/>
<circle cx="1503.3" cy="519.2" r="3.6"/>
<circle cx="1503.3" cy="521.7" r="3.6"/>
<circle cx="1503.3" cy="524.2" r="3.6"/>
<circle cx="1503.3" cy="526.7" r="3.6"/>
<circle cx="1503.3" cy="532.5" r="3.6"/>
<circle cx="1503.3" cy="552.5" r="3.6"/>
<circle cx="1503.3" cy="560.0" r="3.6"/>
<circle cx="1527.8" cy="506.7" r="3.6"/>
<circle cx="1527.8" cy="515.8" r="3.6"/>
<circle cx="1527.8" cy="520.8" r="3.6"/>
<circle cx="1527.8" cy="527.5" r="3.6"/>
<circle cx="1527.8" cy="539.2" r="3.6"/>
<circle cx="1527.8" cy="550.0" r="3.6"/>
<circle cx="1527.8" cy="551.3" r="3.6"/>
<circle cx="1527.8" cy="573.3" r="3.6"/>
<circle cx="1552.5" cy="510.0" r="3.6"/>
<circle cx="1552.5" cy="518.3" r="3.6"/>
<circle cx="1552.5" cy="527.5" r="3.6"/>
<circle cx="1552.5" cy="530.0" r="3.6"/>
<circle cx="1552.5" cy="532.5" r="3.6"/>
<circle cx="1552.5" cy="540.0" r="3.6"/>
<circle cx="1552.5" cy="542.5" r="3.6"/>
<circle cx="1552.5" cy="545.0" r="3.6"/>
<circle cx="1552.5" cy="547.5" r="3.6"/>
<circle cx="1552.5" cy="577.5" r="3.6"/>
<circle cx="1576.7" cy="520.0" r="3.6"/>
<circle cx="1576.7" cy="530.0" r="3.6"/>
<circle cx="1576.7" cy="533.3" r="3.6"/>
<circle cx="1576.7" cy="543.3" r="3.6"/>
<circle cx="1576.7" cy="551.7" r="3.6"/>
<circle cx="1576.7" cy="575.8" r="3.6"/>
<circle cx="1601.2" cy="523.3" r="3.6"/>
<circle cx="1601.2" cy="525.8" r="3.6"/>
<circle cx="1601.2" cy="528.3" r="3.6"/>
<circle cx="1601.2" cy="533.3" r="3.6"/>
<circle cx="1601.2" cy="538.3" r="3.6"/>
<circle cx="1601.2" cy="541.7" r="3.6"/>
<circle cx="1601.2" cy="554.2" r="3.6"/>
<circle cx="1601.2" cy="572.5" r="3.6"/>
<circle cx="1625.8" cy="519.2" r="3.6"/>
<circle cx="1625.8" cy="522.5" r="3.6"/>
<circle cx="1625.8" cy="525.8" r="3.6"/>
<circle cx="1625.8" cy="534.2" r="3.6"/>
<circle cx="1625.8" cy="537.5" r="3.6"/>
<circle cx="1625.8" cy="552.5" r="3.6"/>
<circle cx="1625.8" cy="565.0" r="3.6"/>
<circle cx="1650.0" cy="519.2" r="3.6"/>
<circle cx="1650.0" cy="523.3" r="3.6"/>
<circle cx="1650.0" cy="527.5" r="3.6"/>
<circle cx="1650.0" cy="531.7" r="3.6"/>
<circle cx="1650.0" cy="535.8" r="3.6"/>
<circle cx="1650.0" cy="547.5" r="3.6"/>
<circle cx="1650.0" cy="555.3" r="3.6"/>
<circle cx="1674.2" cy="521.7" r="3.6"/>
<circle cx="1674.2" cy="524.2" r="3.6"/>
<circle cx="1674.2" cy="526.7" r="3.6"/>
<circle cx="1674.2" cy="536.7" r="3.6"/>
<circle cx="1674.2" cy="540.8" r="3.6"/>
<circle cx="1674.2" cy="544.2" r="3.6"/>
<circle cx="1698.3" cy="525.8" r="3.6"/>
<circle cx="1723.3" cy="510.8" r="3.6"/>
<circle cx="1723.3" cy="524.2" r="3.6"/>
<circle cx="1723.3" cy="529.2" r="3.6"/>
<circle cx="1723.3" cy="536.7" r="3.6"/>
</g>
<polyline points="1137.2,545.7 1159.9,434.5 1185.4,439.3 1209.8,428.4 1233.8,462.9 1260.0,470.8 1283.1,479.4 1307.7,486.2 1330.8,492.3 1355.4,499.1 1380.0,505.2 1404.6,512.9 1420.0,516.7 1430.0,518.3 1440.0,520.5 1453.3,523.0 1466.7,525.5 1480.0,527.8 1493.3,530.3 1506.7,532.5 1520.0,533.8 1533.3,535.0 1546.7,535.8 1560.0,535.8 1573.3,535.5 1580.0,535.8 1596.7,534.3 1613.3,533.0 1630.0,531.3 1646.7,530.0 1663.3,528.8 1680.0,527.8 1696.7,526.7 1710.0,525.5 1723.3,524.2" fill="none" stroke="#ff0000" stroke-width="3.9" stroke-linejoin="round" stroke-linecap="round"/>
<polyline points="1062.4,394.3 1064.9,396.7 1069.7,379.7 1074.6,389.4 1079.5,391.1 1085.1,393.1 1089.2,382.1 1094.8,374.8 1099.0,432.0 1103.8,458.8 1108.7,449.1 1113.6,451.5 1118.5,446.2 1123.3,447.9 1128.2,441.8 1133.1,438.1 1137.9,435.7 1142.8,441.3 1147.7,424.7 1152.5,408.9 1157.4,401.6 1162.3,387.0 1167.2,371.1 1172.0,348.0 1178.1,345.1 1183.0,361.4 1187.1,331.0 1192.7,348.0 1197.6,372.4 1202.5,386.2 1207.3,383.8 1212.2,379.2 1217.1,381.6 1222.0,378.9 1226.8,390.6 1231.7,401.6 1236.6,402.8 1235.8,403.3 1241.5,405.2 1246.3,400.4 1251.2,390.8 1256.0,397.5 1260.8,380.8 1265.6,388.8 1270.4,387.9 1275.2,385.0 1280.4,377.7 1285.4,390.4 1290.0,386.9 1295.4,390.8 1300.2,402.7 1305.4,400.4 1309.8,414.8 1314.6,424.4 1319.4,427.7 1324.2,423.1 1329.0,424.4 1333.8,432.1 1338.7,432.1 1343.5,439.2 1348.3,441.2 1353.1,438.8 1357.9,441.7 1363.7,451.3 1368.5,442.7 1373.3,447.5 1378.1,458.1 1382.9,449.4 1387.7,461.0 1392.5,461.5 1397.3,457.1 1402.1,466.7 1406.9,462.9 1411.7,467.3 1417.5,471.5 1420.0,475.8 1422.5,477.5 1426.7,473.0 1431.7,475.8 1436.7,480.8 1441.7,488.3 1446.7,481.3 1450.8,483.0 1455.8,474.7 1460.8,478.0 1466.7,484.7 1470.8,485.3 1475.8,483.3 1480.8,490.0 1485.8,490.8 1490.8,497.0 1495.8,494.7 1500.8,500.8 1505.8,500.3 1510.0,499.7 1515.0,503.0 1520.0,506.7 1525.0,502.0 1530.0,514.2 1535.0,510.8 1540.0,504.7 1544.7,515.8 1549.2,510.8 1553.3,513.7 1558.3,513.0 1563.3,517.5 1568.7,522.5 1573.3,512.5 1577.5,515.0 1580.0,516.7 1584.2,518.3 1588.3,518.3 1593.3,525.0 1598.3,521.7 1603.3,513.7 1608.3,524.2 1612.5,527.0 1618.3,527.0 1623.0,535.0 1627.5,523.7 1632.5,527.5 1637.5,528.3 1642.5,535.0 1647.5,534.2 1652.0,532.5 1657.0,541.3 1661.7,534.2 1666.7,538.0 1671.7,528.7 1676.7,534.7 1681.7,532.5 1686.7,531.3 1691.7,531.7 1695.8,531.3 1700.3,527.5 1705.3,536.7 1710.8,538.0 1716.7,532.5 1721.3,522.5" fill="none" stroke="#000" stroke-width="3.6" stroke-linejoin="round" stroke-linecap="round"/>
<rect x="1062.1" y="311.9" width="686.1" height="288.4" fill="none" stroke="#222" stroke-width="1.6"/>
<line x1="1053.3" y1="341.0" x2="1062.1" y2="341.0" stroke="#222" stroke-width="1.6"/>
<text x="1048" y="353.2" font-family="Liberation Sans, Arial, sans-serif" font-size="36" text-anchor="end">3</text>
<line x1="1053.3" y1="403.3" x2="1062.1" y2="403.3" stroke="#222" stroke-width="1.6"/>
<text x="1048" y="415.5" font-family="Liberation Sans, Arial, sans-serif" font-size="36" text-anchor="end">2</text>
<line x1="1053.3" y1="465.5" x2="1062.1" y2="465.5" stroke="#222" stroke-width="1.6"/>
<text x="1048" y="477.7" font-family="Liberation Sans, Arial, sans-serif" font-size="36" text-anchor="end">1</text>
<line x1="1053.3" y1="527.7" x2="1062.1" y2="527.7" stroke="#222" stroke-width="1.6"/>
<text x="1048" y="539.9" font-family="Liberation Sans, Arial, sans-serif" font-size="36" text-anchor="end">0</text>
<line x1="1053.3" y1="589.9" x2="1062.1" y2="589.9" stroke="#222" stroke-width="1.6"/>
<text x="1048" y="602.1" font-family="Liberation Sans, Arial, sans-serif" font-size="36" text-anchor="end">-1</text>
<line x1="1136.1" y1="600.3" x2="1136.1" y2="609.7" stroke="#222" stroke-width="1.6"/>
<line x1="1233.9" y1="600.3" x2="1233.9" y2="609.7" stroke="#222" stroke-width="1.6"/>
<line x1="1331.7" y1="600.3" x2="1331.7" y2="609.7" stroke="#222" stroke-width="1.6"/>
<line x1="1429.6" y1="600.3" x2="1429.6" y2="609.7" stroke="#222" stroke-width="1.6"/>
<line x1="1527.4" y1="600.3" x2="1527.4" y2="609.7" stroke="#222" stroke-width="1.6"/>
<line x1="1625.2" y1="600.3" x2="1625.2" y2="609.7" stroke="#222" stroke-width="1.6"/>
<line x1="1723.0" y1="600.3" x2="1723.0" y2="609.7" stroke="#222" stroke-width="1.6"/>
<text x="1127.7" y="652.9" font-family="DejaVu Sans, sans-serif" font-size="37.5" text-anchor="middle" textLength="141.2" lengthAdjust="spacing">-12000</text>
<text x="1330.4" y="652.9" font-family="DejaVu Sans, sans-serif" font-size="37.5" text-anchor="middle" textLength="116.8" lengthAdjust="spacing">-8000</text>
<text x="1518.8" y="652.9" font-family="DejaVu Sans, sans-serif" font-size="37.5" text-anchor="middle" textLength="116.0" lengthAdjust="spacing">-4000</text>
<text x="1725.2" y="652.9" font-family="DejaVu Sans, sans-serif" font-size="37.5" text-anchor="middle" textLength="23.9" lengthAdjust="spacing">0</text>
<text x="1430.5" y="704.5" font-family="DejaVu Sans, sans-serif" font-size="37.6" text-anchor="middle" textLength="172" lengthAdjust="spacing">years BP</text>
<text x="1072.3" y="346.4" font-family="Liberation Sans, Arial, sans-serif" font-size="42" font-weight="bold">c</text>
<text transform="translate(992.2,607.9) rotate(-90)" font-family="Liberation Sans, Arial, sans-serif" font-size="34.5">T<tspan font-size="22.5">warm</tspan><tspan> anomalies [K]</tspan></text>
<rect x="1430" y="321.1" width="312.1" height="64.6" fill="#fff" stroke="#000" stroke-width="1.6"/>
<line x1="1447.3" y1="343.3" x2="1481.7" y2="343.3" stroke="#000" stroke-width="5" stroke-linecap="round"/>
<text x="1498.3" y="350.0" font-family="Liberation Sans, Arial, sans-serif" font-size="19.1">MPI−ESM chironomid−sites</text>
<line x1="1447.3" y1="364.9" x2="1481.7" y2="364.9" stroke="#ff0000" stroke-width="5" stroke-linecap="round"/>
<text x="1498.3" y="371.6" font-family="Liberation Sans, Arial, sans-serif" font-size="19.1">chironomid records</text>
</svg></body></html>
